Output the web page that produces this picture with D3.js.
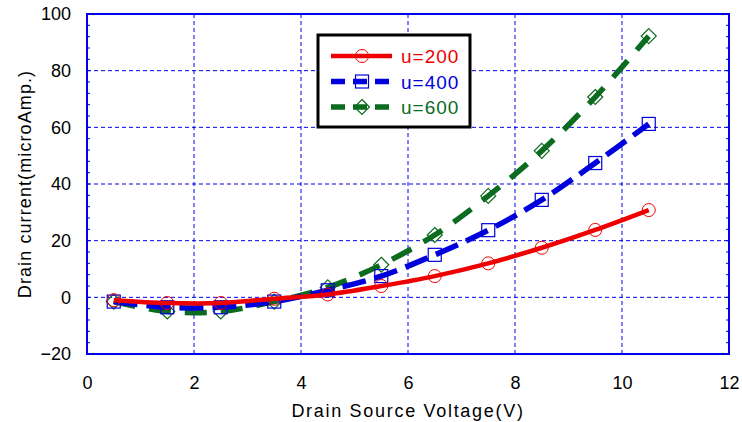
<!DOCTYPE html>
<html>
<head>
<meta charset="utf-8">
<script src="https://cdn.jsdelivr.net/npm/d3@7/dist/d3.min.js"></script>
<style>
  body { margin: 0; background: #fff; }
  text { font-family: "Liberation Sans", Arial, sans-serif; }
</style>
</head>
<body>
<div id="chart"></div>
<script>
var voltage = [0.5, 1.5, 2.5, 3.5, 4.5, 5.5, 6.5, 7.5, 8.5, 9.5, 10.5];
var u200 = [-1, -2, -2, -0.5, 1, 4, 7.5, 12, 17.5, 23.8, 30.8];
var u400 = [-1.5, -3.5, -3.5, -1.5, 2.5, 7.5, 15, 23.7, 34.4, 47.4, 61.2];
var u600 = [-1.5, -5, -5, -1.5, 3.5, 11.5, 22, 35.8, 51.7, 70.7, 92.2];
var xTicks = [0, 2, 4, 6, 8, 10, 12];
var yTicks = [-20, 0, 20, 40, 60, 80, 100];
var seriesNames = ["u=200", "u=400", "u=600"];

var W = 742, H = 422;
var margin = {left: 87, right: 13, top: 14, bottom: 68};

var svg = d3.select("#chart").append("svg")
	.attr("width", W)
	.attr("height", H);

var x = d3.scaleLinear().domain([0, 12]).range([margin.left, W - margin.right]);
var y = d3.scaleLinear().domain([-20, 100]).range([H - margin.bottom, margin.top]);

var gridColor = "#0000ee";

// grid
svg.append("g").selectAll("line.vg")
	.data(xTicks.slice(1, -1))
	.enter().append("line")
	.attr("x1", function(d) { return x(d); })
	.attr("x2", function(d) { return x(d); })
	.attr("y1", y(-20)).attr("y2", y(100))
	.style("stroke", gridColor).style("stroke-width", 1)
	.style("stroke-dasharray", "4,3");

svg.append("g").selectAll("line.hg")
	.data(yTicks.slice(1, -1))
	.enter().append("line")
	.attr("y1", function(d) { return y(d); })
	.attr("y2", function(d) { return y(d); })
	.attr("x1", x(0)).attr("x2", x(12))
	.style("stroke", gridColor).style("stroke-width", 1)
	.style("stroke-dasharray", "4,3");

// minor ticks on left/right borders
var minor = d3.range(-20, 100.1, 4);
svg.append("g").selectAll("line")
	.data(minor)
	.enter().append("line")
	.attr("x1", x(0)).attr("x2", x(0) + 3)
	.attr("y1", function(d) { return y(d); })
	.attr("y2", function(d) { return y(d); })
	.style("stroke", gridColor);
svg.append("g").selectAll("line")
	.data(minor)
	.enter().append("line")
	.attr("x1", x(12)).attr("x2", x(12) - 3)
	.attr("y1", function(d) { return y(d); })
	.attr("y2", function(d) { return y(d); })
	.style("stroke", gridColor);

// frame
svg.append("rect")
	.attr("x", x(0)).attr("y", y(100))
	.attr("width", x(12) - x(0)).attr("height", y(-20) - y(100))
	.style("fill", "none").style("stroke", gridColor).style("stroke-width", 2);

// axes
var xAxis = svg.append("g")
	.attr("transform", "translate(0," + y(-20) + ")")
	.call(d3.axisBottom(x).tickValues(xTicks).tickSize(0).tickPadding(22));
xAxis.select(".domain").remove();
xAxis.selectAll("text").style("font-size", "18px").style("fill", "#000")
	.style("font-family", "'Liberation Sans', Arial, sans-serif");

var yAxis = svg.append("g")
	.attr("transform", "translate(" + x(0) + ",0)")
	.call(d3.axisLeft(y).tickValues(yTicks).tickSize(0).tickPadding(16));
yAxis.select(".domain").remove();
yAxis.selectAll("text").style("font-size", "18px").style("fill", "#000")
	.style("font-family", "'Liberation Sans', Arial, sans-serif");

svg.append("text")
	.attr("x", 408).attr("y", 417)
	.attr("text-anchor", "middle")
	.style("font-size", "18px")
	.style("letter-spacing", "1.7px")
	.text("Drain Source Voltage(V)");

svg.append("text")
	.attr("transform", "translate(31,184) rotate(-90)")
	.attr("text-anchor", "middle")
	.style("font-size", "18px")
	.style("letter-spacing", "1.1px")
	.text("Drain current(microAmp.)");

// series
var series = [
	{name: seriesNames[0], vals: u200, color: "#ee0000", dash: null, width: 4.5, marker: "circle"},
	{name: seriesNames[1], vals: u400, color: "#0000dd", dash: "24,9", width: 5.5, marker: "square"},
	{name: seriesNames[2], vals: u600, color: "#0b6b1e", dash: "22,14", width: 5.5, marker: "diamond"}
];

var line = d3.line()
	.x(function(d) { return x(d[0]); })
	.y(function(d) { return y(d[1]); })
	.curve(d3.curveCatmullRom);

function drawMarker(g, type, cx, cy, color) {
	if (type == "circle") {
		g.append("circle").attr("cx", cx).attr("cy", cy).attr("r", 6.5)
			.style("fill", "none").style("stroke", color).style("stroke-width", 1);
	} else if (type == "square") {
		g.append("rect").attr("x", cx - 6.5).attr("y", cy - 6.5).attr("width", 13).attr("height", 13)
			.style("fill", "none").style("stroke", color).style("stroke-width", 1.2);
	} else {
		g.append("path")
			.attr("d", "M" + cx + "," + (cy - 7.5) + "L" + (cx + 7.5) + "," + cy + "L" + cx + "," + (cy + 7.5) + "L" + (cx - 7.5) + "," + cy + "Z")
			.style("fill", "none").style("stroke", color).style("stroke-width", 1.2);
	}
}

series.slice().reverse().forEach(function(s) {
	var pts = voltage.map(function(v, i) { return [v, s.vals[i]]; });
	var g = svg.append("g");
	g.append("path")
		.attr("d", line(pts))
		.style("fill", "none")
		.style("stroke", s.color)
		.style("stroke-width", s.width)
		.style("stroke-dasharray", s.dash);
	pts.forEach(function(p) {
		drawMarker(g, s.marker, x(p[0]), y(p[1]), s.color);
	});
});

// legend
var lg = svg.append("g");
lg.append("rect")
	.attr("x", 318).attr("y", 35).attr("width", 152).attr("height", 92)
	.style("fill", "#fff").style("stroke", "#000").style("stroke-width", 3);
series.forEach(function(s, i) {
	var ly = 56 + i * 25.5;
	lg.append("line")
		.attr("x1", 331).attr("x2", 392).attr("y1", ly).attr("y2", ly)
		.style("stroke", s.color).style("stroke-width", s.width)
		.style("stroke-dasharray", s.dash ? "14,8" : null);
	drawMarker(lg, s.marker, 362, ly, s.color);
	lg.append("text")
		.attr("x", 401).attr("y", ly + 7)
		.style("font-size", "19px")
		.style("letter-spacing", "1px")
		.style("fill", s.color)
		.text(s.name);
});
</script>
</body>
</html>
